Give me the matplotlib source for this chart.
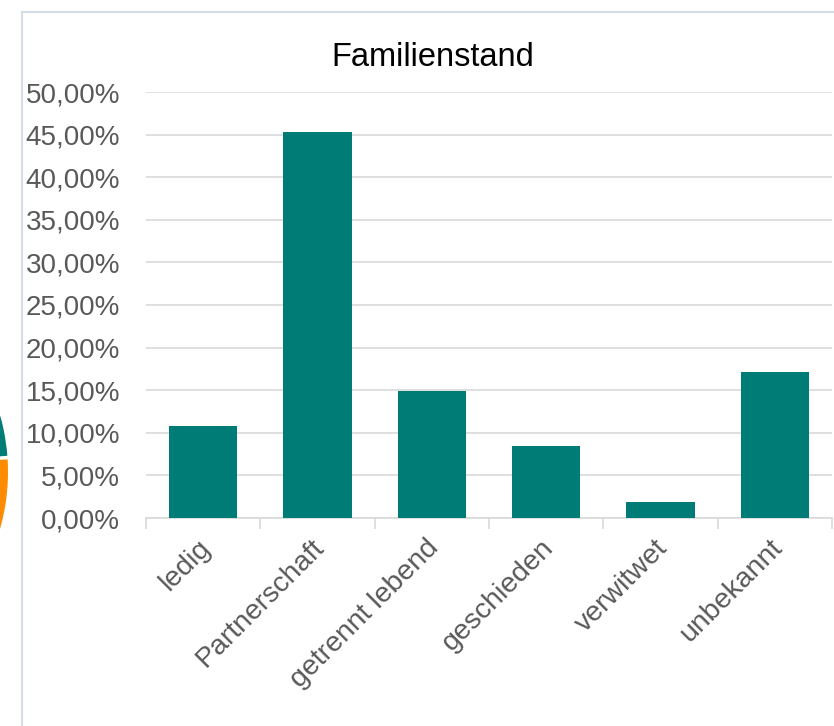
import matplotlib

matplotlib.use("Agg")
import matplotlib.pyplot as plt
from matplotlib.patches import Rectangle, Wedge
from matplotlib.ticker import FuncFormatter, FixedLocator
from matplotlib.transforms import ScaledTranslation
import numpy as np

categories = ["ledig", "Partnerschaft", "getrennt lebend", "geschieden", "verwitwet", "unbekannt"]
values = [10.8, 45.3, 14.9, 8.45, 1.9, 17.1]
y_ticks = [0, 5, 10, 15, 20, 25, 30, 35, 40, 45, 50]

bar_color = "#007C77"
grid_color = "#D9D9D9"
text_color = "#595959"

plt.rcParams["font.family"] = ["Liberation Sans", "DejaVu Sans"]

fig = plt.figure(figsize=(8.34, 7.26), dpi=100)
px = 1 / 100  # pixels -> inches for dpi_scale_trans

# chart frame and the cut-off logo at the left edge
fig.patches.append(Rectangle((22 * px, -0.1), 9.0, (726 - 12) * px + 0.1,
                             transform=fig.dpi_scale_trans, fill=False,
                             edgecolor="#D6DCE5", linewidth=1.5))
logo_c = (-199 * px, (726 - 472) * px)
fig.patches.append(Wedge(logo_c, 207 * px, -20, 3.5, width=20 * px,
                         transform=fig.dpi_scale_trans,
                         facecolor="#FF8C00", edgecolor="none"))
fig.patches.append(Wedge(logo_c, 207 * px, 4.5, 20, width=20 * px,
                         transform=fig.dpi_scale_trans,
                         facecolor=bar_color, edgecolor="none"))

ax = fig.add_axes([146 / 834, (726 - 518) / 726, (832 - 146) / 834, (518 - 92) / 726])

x = np.arange(len(categories))
ax.bar(x, values, width=0.6, color=bar_color, zorder=3)

ax.set_xlim(-0.5, len(categories) - 0.5)
ax.set_ylim(0, 50)
ax.set_yticks(y_ticks)
ax.yaxis.set_major_formatter(FuncFormatter(lambda v, p: f"{v:.2f}".replace(".", ",") + "%"))
ax.grid(axis="y", color=grid_color, linewidth=1.2, zorder=0)

ax.set_xticks(x)
ax.set_xticklabels(categories, rotation=45, ha="right", rotation_mode="anchor")
ax.xaxis.set_minor_locator(FixedLocator(np.arange(-0.5, len(categories), 1.0)))
ax.tick_params(axis="x", which="major", length=0, pad=12, labelsize=20.5, labelcolor=text_color)
ax.tick_params(axis="x", which="minor", length=8, width=1.2, color=grid_color)
ax.tick_params(axis="y", length=0, pad=18.5, labelsize=20, labelcolor=text_color)

shift = ScaledTranslation(-6 * px, 0, fig.dpi_scale_trans)
for lab in ax.get_xticklabels():
    lab.set_transform(lab.get_transform() + shift)

for side in ["top", "right", "left"]:
    ax.spines[side].set_visible(False)
ax.spines["bottom"].set_color(grid_color)
ax.spines["bottom"].set_linewidth(1.2)

fig.text(433 / 834, 1 - 57 / 726, "Familienstand", ha="center", va="center",
         fontsize=23.5, color="black")

fig.savefig("out.png", dpi=100)
